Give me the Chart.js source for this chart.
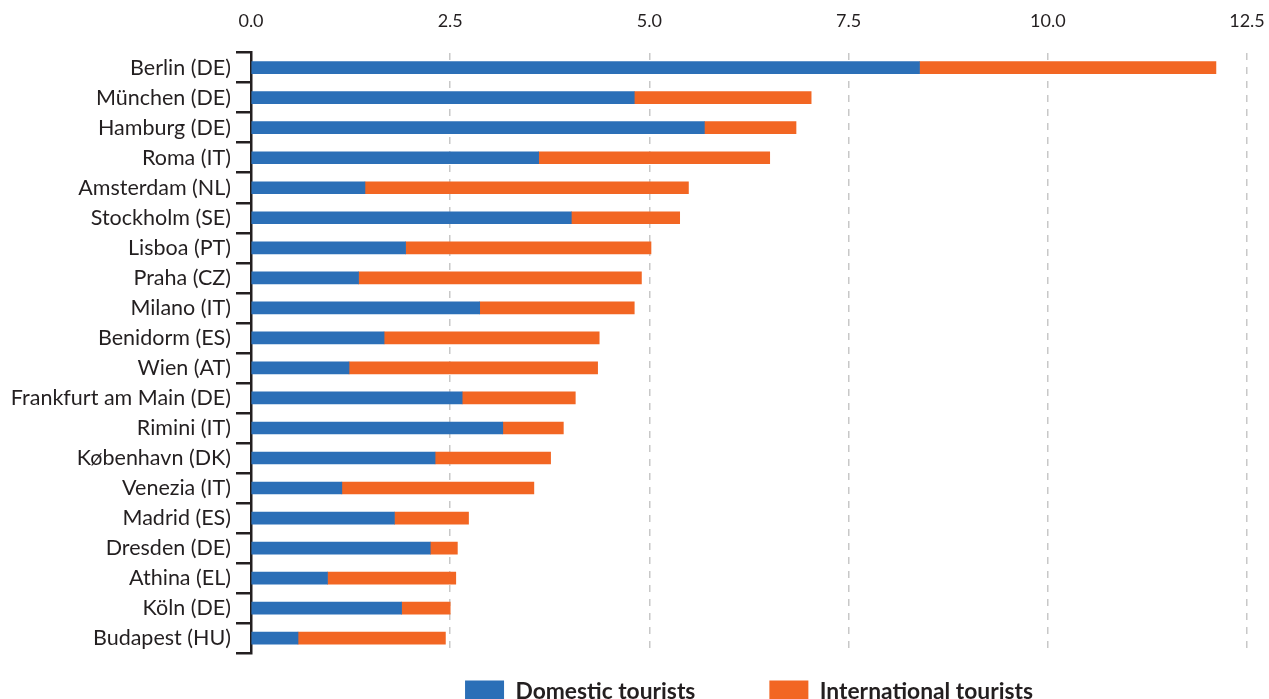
<!DOCTYPE html>
<html>
<head>
<meta charset="utf-8">
<script src="https://cdn.jsdelivr.net/npm/chart.js@4.4.1/dist/chart.umd.min.js"></script>
<style>
  html, body { margin: 0; padding: 0; background: #ffffff; overflow: hidden; }
  #wrap { width: 1269px; height: 699px; overflow: hidden; }
  canvas { display: block; }
</style>
</head>
<body>
<div id="wrap"><canvas id="chart" width="1269" height="760"></canvas></div>
<script>
const categories = [
  "Berlin (DE)", "München (DE)", "Hamburg (DE)", "Roma (IT)", "Amsterdam (NL)",
  "Stockholm (SE)", "Lisboa (PT)", "Praha (CZ)", "Milano (IT)", "Benidorm (ES)",
  "Wien (AT)", "Frankfurt am Main (DE)", "Rimini (IT)", "København (DK)", "Venezia (IT)",
  "Madrid (ES)", "Dresden (DE)", "Athina (EL)", "Köln (DE)", "Budapest (HU)"
];
const domesticTourists = [
  8.39, 4.81, 5.69, 3.61, 1.43,
  4.02, 1.94, 1.35, 2.87, 1.67,
  1.23, 2.65, 3.16, 2.31, 1.14,
  1.80, 2.25, 0.96, 1.89, 0.59
];
const internationalTourists = [
  3.72, 2.22, 1.15, 2.90, 4.06,
  1.36, 3.08, 3.55, 1.94, 2.70,
  3.12, 1.42, 0.76, 1.45, 2.41,
  0.93, 0.34, 1.61, 0.61, 1.85
];
const seriesNames = ["Domestic tourists", "International tourists"];
const xTicks = { min: 0, max: 12.5, step: 2.5 };

const TEXT = "#231f20";
const BLUE = "#2b6fb7";
const ORANGE = "#f26623";

const legendShift = {
  id: "legendShift",
  afterLayout(chart) {
    const lg = chart.legend;
    if (!lg) return;
    const pad = lg.options.labels.padding;
    const target = chart.chartArea.bottom + 27 - pad;
    const d = lg.top - target;
    lg.top -= d;
    lg.bottom -= d;
  }
};

new Chart(document.getElementById("chart"), {
  type: "bar",
  data: {
    labels: categories,
    datasets: [
      { label: seriesNames[0], data: domesticTourists, backgroundColor: BLUE, barThickness: 12 },
      { label: seriesNames[1], data: internationalTourists, backgroundColor: ORANGE, barThickness: 12 }
    ]
  },
  plugins: [legendShift],
  options: {
    responsive: false,
    animation: false,
    indexAxis: "y",
    layout: { padding: { top: -11, right: 22, left: 0, bottom: 0 } },
    scales: {
      x: {
        position: "top",
        stacked: true,
        min: xTicks.min,
        max: xTicks.max,
        ticks: {
          stepSize: xTicks.step,
          padding: 21,
          color: TEXT,
          font: { family: "Lato", size: 18 },
          callback: v => Number(v).toFixed(1)
        },
        grid: { color: "#c8c8c8", lineWidth: 1.5, drawTicks: false },
        border: { display: false, dash: [7, 7] },
        afterFit(scale) { scale.paddingLeft = 0; scale.paddingRight = 0; }
      },
      y: {
        stacked: true,
        ticks: {
          color: TEXT,
          padding: 5,
          font: { family: "Lato", size: 21.5 }
        },
        grid: { drawOnChartArea: false, drawTicks: true, tickLength: 15, color: TEXT, lineWidth: 2.5 },
        border: { color: TEXT, width: 2.5 },
        afterFit(scale) { scale.width = 251; }
      }
    },
    plugins: {
      tooltip: { enabled: false },
      legend: {
        position: "bottom",
        fullSize: false,
        labels: {
          boxWidth: 39,
          boxHeight: 22,
          padding: 74,
          color: TEXT,
          font: { family: "Lato", size: 22.8, weight: "bold" }
        }
      }
    }
  }
});
</script>
</body>
</html>
